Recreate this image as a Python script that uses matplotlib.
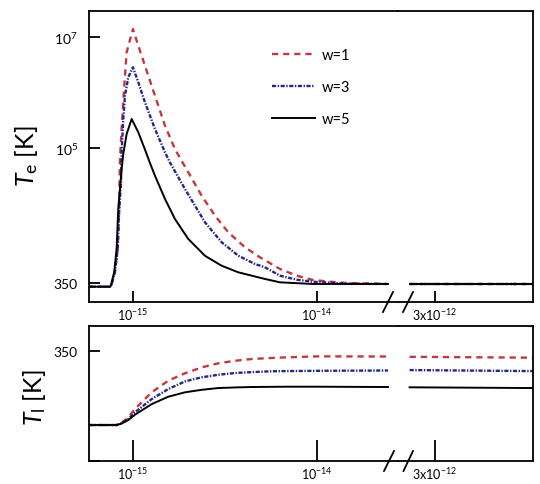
import numpy as np
import matplotlib
matplotlib.use('Agg')
import matplotlib.pyplot as plt
from matplotlib.lines import Line2D
from matplotlib.ticker import NullLocator

plt.rcParams['font.family'] = ['Lato', 'DejaVu Sans']
plt.rcParams['mathtext.fontset'] = 'custom'
plt.rcParams['mathtext.rm'] = 'Lato'
plt.rcParams['mathtext.it'] = 'Lato:italic'
plt.rcParams['lines.scale_dashes'] = False

# ---------------- data ----------------
labels = ['w=1', 'w=3', 'w=5']
colors = ['#c0393f', '#262688', '#000000']

# Electron temperature, early window (time in fs, T in K)
te_t_w1 = [0.577, 0.750, 0.766, 0.798, 0.826, 0.839, 0.850, 0.868, 0.897, 0.924, 1.0, 1.069, 1.162,
           1.317, 1.493, 1.691, 1.839, 1.998, 2.362, 2.791, 3.296, 4.062, 4.899, 6.295, 7.757,
           9.51, 11.77, 14.5, 24.3]
te_T_w1 = [300, 300, 336, 554, 1448, 5815, 62100, 217000, 1325000, 5350000, 14140000, 7040000,
           3050000, 873000, 249000, 94200, 57100, 35600, 13410, 5815, 2907, 1554, 1024, 628, 475,
           397, 369, 350, 336]

te_t_w3 = [0.577, 0.750, 0.766, 0.798, 0.826, 0.839, 0.861, 0.868, 0.886, 0.905, 0.943, 1.0, 1.069,
           1.162, 1.317, 1.493, 1.589, 1.917, 2.173, 2.462, 3.034, 3.736, 4.603, 5.217, 6.295,
           7.757, 9.51, 14.5, 24.3]
te_T_w3 = [300, 300, 336, 554, 1448, 5815, 23760, 83100, 330000, 873000, 1882000, 2860000, 1527000,
           663000, 217000, 82100, 53600, 17740, 8830, 4415, 1915, 1094, 774, 674, 475, 402, 369,
           340, 336]

te_t_w5 = [0.577, 0.750, 0.759, 0.791, 0.815, 0.832, 0.850, 0.868, 0.886, 0.924, 0.984, 1.069, 1.162,
           1.237, 1.317, 1.493, 1.691, 1.998, 2.462, 3.034, 3.736, 5.217, 6.295, 9.51, 24.3]
te_T_w5 = [300, 300, 313, 554, 1448, 7700, 17700, 40900, 76500, 176000, 330000, 189000, 92300,
           52500, 30900, 11700, 5070, 2200, 1090, 720, 547, 414, 360, 336, 336]

# Electron temperature, late window (time in s)
late_t = [2.75e-12, 3.98e-12]
te_late_w1 = [336, 336]
te_late_w3 = [336, 336]
te_late_w5 = [336, 336]

# Lattice temperature, early window (time in fs)
tl_t = [0.577, 0.815, 0.868, 0.943, 1.025, 1.264, 1.555, 1.917, 2.362, 2.908, 3.584, 4.417, 5.436,
        6.70, 10.16, 24.3]
tl_w1 = [300, 300, 301.5, 305.2, 310.9, 322.2, 330.1, 335.1, 339.1, 341.9, 343.6, 344.8, 345.4,
         345.9, 346.6, 346.5]
tl_w3 = [300, 300, 301.2, 304.1, 308.6, 317.6, 324.4, 329.6, 332.4, 334.1, 335.3, 335.9, 336.4,
         336.6, 336.8, 337.0]
tl_w5 = [300, 300, 301.0, 303.4, 307.0, 314.2, 319.2, 322.2, 323.9, 325.1, 325.5, 325.8, 325.9,
         326.0, 326.0, 325.8]
# Lattice temperature, late window
tl_late_w1 = [346.3, 345.7]
tl_late_w3 = [337.3, 336.6]
tl_late_w5 = [325.6, 325.1]

# ---------------- figure ----------------
W, H = 540, 485
fig = plt.figure(figsize=(W / 100, H / 100), dpi=100)


def rect(x0, y0, x1, y1):
    return [x0 / W, 1 - y1 / H, (x1 - x0) / W, (y1 - y0) / H]


ax1 = fig.add_axes(rect(89, 11.7, 398, 303))
ax2 = fig.add_axes(rect(398, 11.7, 533, 303), sharey=ax1)
ax3 = fig.add_axes(rect(89, 326.7, 398, 461.7))
ax4 = fig.add_axes(rect(398, 326.7, 533, 461.7), sharey=ax3)

styles = [dict(ls=(0, (4.5, 3.5)), lw=1.7),
          dict(ls=(0, (3.0, 1.1, 1.0, 1.1)), lw=1.7),
          dict(ls='-', lw=1.4)]

fs = 1e-15
te_early = [(te_t_w1, te_T_w1), (te_t_w3, te_T_w3), (te_t_w5, te_T_w5)]
te_late = [te_late_w1, te_late_w3, te_late_w5]
tl_early = [tl_w1, tl_w3, tl_w5]
tl_late = [tl_late_w1, tl_late_w3, tl_late_w5]

for i in range(3):
    t, T = te_early[i]
    ax1.plot(np.array(t) * fs, T, color=colors[i], label=labels[i], **styles[i])
    ax2.plot(late_t, te_late[i], color=colors[i], **styles[i])
    ax3.plot(np.array(tl_t) * fs, tl_early[i], color=colors[i], **styles[i])
    ax4.plot(late_t, tl_late[i], color=colors[i], **styles[i])

# x scales
for ax in (ax1, ax3):
    ax.set_xscale('log')
    ax.set_xlim(0.577e-15, 27.55e-15)
    ax.set_xticks([1e-15, 1e-14])
    ax.set_xticklabels([r'$10^{-15}$', r'$10^{-14}$'])
    ax.xaxis.set_minor_locator(NullLocator())
    ax.spines['right'].set_visible(False)
for ax in (ax2, ax4):
    ax.set_xlim(2.634e-12, 3.984e-12)
    ax.set_xticks([3e-12])
    ax.set_xticklabels([r'3x$10^{-12}$'])
    ax.spines['left'].set_visible(False)
    ax.tick_params(axis='y', left=False, labelleft=False)

# y scales
ax1.set_yscale('log')
ax1.set_ylim(158.3, 3.037e7)
ax1.set_yticks([350, 1e5, 1e7])
ax1.set_yticklabels(['350', r'$10^5$', r'$10^7$'])
ax1.yaxis.set_minor_locator(NullLocator())
ax2.yaxis.set_minor_locator(NullLocator())

ax3.set_ylim(275.8, 367.4)
ax3.set_yticks([275.8, 350])
ax3.set_yticklabels(['', '350'])

for ax in (ax1, ax2, ax3, ax4):
    for s in ax.spines.values():
        s.set_linewidth(1.3)
    ax.tick_params(axis='x', direction='in', width=1.3, pad=3, labelsize=9)
    ax.tick_params(axis='y', direction='in', width=1.3, length=8, pad=8, labelsize=10)
ax1.tick_params(axis='x', length=8)
ax2.tick_params(axis='x', length=8)
ax3.tick_params(axis='x', length=15)
ax4.tick_params(axis='x', length=15)

ax1.set_ylabel(r'$T_{\rm e}$ [K]', fontsize=18)
ax1.yaxis.set_label_coords(-0.159, 0.504)
ax3.set_ylabel(r'$T_{\rm l}$ [K]', fontsize=18)
ax3.yaxis.set_label_coords(-0.133, 0.476)

ax1.legend(loc='upper left', bbox_to_anchor=(0.592, 0.873), frameon=False,
           handlelength=2.95, handletextpad=0.5, labelspacing=1.25,
           borderaxespad=0, borderpad=0, fontsize=10.5)

# axis-break marks
breaks = [((383, 313), (393, 293)), ((403, 313), (413, 293)),
          ((384, 472), (394, 452)), ((403.5, 472), (413, 452))]
for (xa, ya), (xb, yb) in breaks:
    fig.add_artist(Line2D([xa / W, xb / W], [1 - ya / H, 1 - yb / H],
                          transform=fig.transFigure, color='black', lw=1.3))

fig.savefig('out.png', dpi=100)
